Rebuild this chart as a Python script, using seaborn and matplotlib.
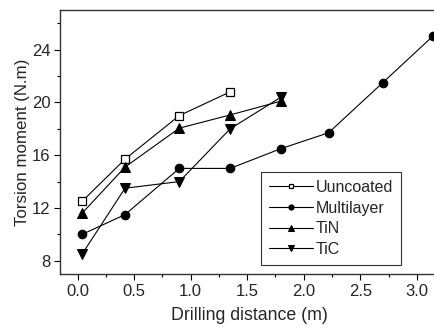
import matplotlib
matplotlib.use("Agg")
import matplotlib.pyplot as plt
import seaborn as sns
import pandas as pd
from matplotlib.ticker import MultipleLocator

# Data
x_uncoated = [0.04, 0.42, 0.90, 1.35]
y_uncoated = [12.5, 15.7, 19.0, 20.8]
x_multilayer = [0.04, 0.42, 0.90, 1.35, 1.80, 2.22, 2.70, 3.14]
y_multilayer = [10.0, 11.5, 15.0, 15.0, 16.5, 17.7, 21.5, 25.0]
x_tin = [0.04, 0.42, 0.90, 1.35, 1.80]
y_tin = [11.6, 15.1, 18.05, 19.05, 20.1]
x_tic = [0.04, 0.42, 0.90, 1.35, 1.80]
y_tic = [8.5, 13.5, 14.0, 18.0, 20.4]
series_names = ["Uuncoated", "Multilayer", "TiN", "TiC"]

sns.set_style("ticks")
plt.rcParams["font.family"] = ["Liberation Sans", "DejaVu Sans"]

fig = plt.figure(figsize=(4.34, 3.27), dpi=100)
ax = fig.add_axes([60/434, 53/327, 379.4/434, 264/327])

styles = {
    "Uuncoated": dict(marker="s", markersize=6, markerfacecolor="white", markeredgecolor="black", markeredgewidth=0.9),
    "Multilayer": dict(marker="o", markersize=6.2, markerfacecolor="black", markeredgecolor="black"),
    "TiN": dict(marker="^", markersize=7.8, markerfacecolor="black", markeredgecolor="black"),
    "TiC": dict(marker="v", markersize=7.8, markerfacecolor="black", markeredgecolor="black"),
}
data = {
    "Uuncoated": (x_uncoated, y_uncoated),
    "Multilayer": (x_multilayer, y_multilayer),
    "TiN": (x_tin, y_tin),
    "TiC": (x_tic, y_tic),
}
for name in series_names:
    xs, ys = data[name]
    df = pd.DataFrame({"x": xs, "y": ys})
    sns.lineplot(data=df, x="x", y="y", ax=ax, color="black", linewidth=0.8,
                 label=name, clip_on=False, **styles[name])

ax.set_xlim(-0.155, 3.2)
ax.set_ylim(7.0, 27.0)
ax.xaxis.set_minor_locator(MultipleLocator(0.25))
ax.yaxis.set_minor_locator(MultipleLocator(2))
ax.set_xticks([0.0, 0.5, 1.0, 1.5, 2.0, 2.5, 3.0])
ax.set_xticklabels(["0.0", "0.5", "1.0", "1.5", "2.0", "2.5", "3.0"])
ax.set_yticks([8, 12, 16, 20, 24])
ax.tick_params(axis="both", which="major", direction="out", length=4, width=0.8, labelsize=12, color="black", pad=3)
ax.tick_params(axis="both", which="minor", direction="out", length=2.5, width=0.8, color="black")
for s in ax.spines.values():
    s.set_color("#333333")
    s.set_linewidth(1.0)

ax.set_xlabel("Drilling distance (m)", fontsize=12.8, labelpad=6)
ax.set_ylabel("Torsion moment (N.m)", fontsize=12.2, labelpad=1.5)

leg = ax.legend(loc="lower right", bbox_to_anchor=(0.899, 0.034), frameon=True, fancybox=False,
                edgecolor="black", fontsize=11.5, handlelength=2.7, markerscale=0.6,
                borderpad=0.5, labelspacing=0.36, handletextpad=0.2, borderaxespad=0)
leg.get_frame().set_linewidth(0.8)

fig.savefig("out.png", dpi=100)
